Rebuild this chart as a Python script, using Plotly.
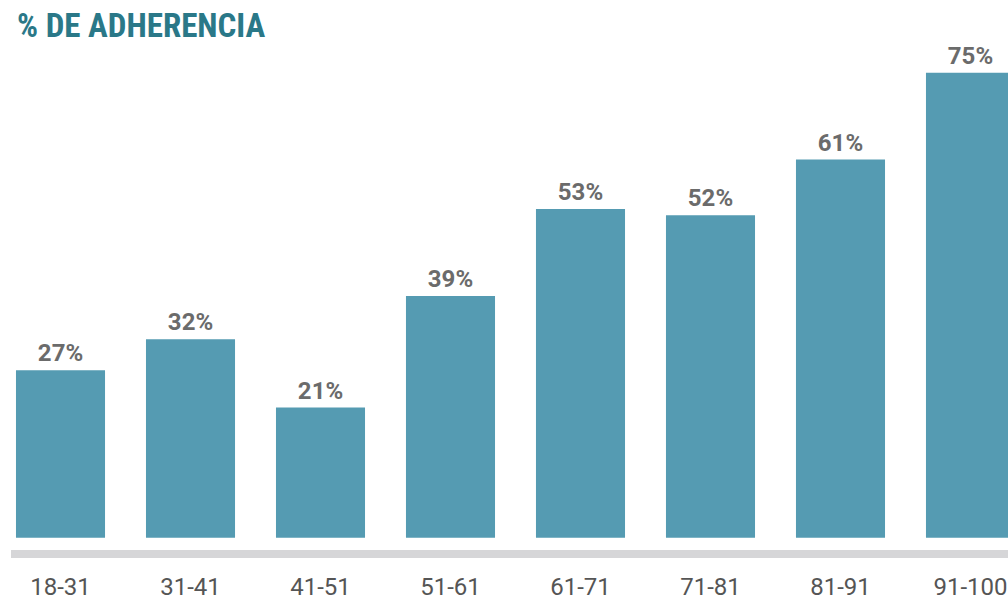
import plotly.graph_objects as go

categories = ["18-31", "31-41", "41-51", "51-61", "61-71", "71-81", "81-91", "91-100"]
adherence = [27, 32, 21, 39, 53, 52, 61, 75]
labels = [f"{v}%" for v in adherence]

TEAL = "#2a7888"
BAR = "#559bb2"

fig = go.Figure()
fig.add_trace(go.Bar(
    x=list(range(len(categories))), y=adherence, text=labels,
    textposition="outside", cliponaxis=False, width=0.685,
    marker=dict(color=BAR, line=dict(width=0)),
    textfont=dict(family="Roboto, Arial", size=24, color="#6b6b6b", weight="bold"),
    hoverinfo="skip"))

# baseline band under the bars
fig.add_shape(type="line", xref="paper", yref="y", x0=11 / 1008, x1=1, y0=-2.63, y1=-2.63,
              line=dict(color="#d6d6d8", width=8), layer="below")

fig.add_annotation(text="% DE ADHERENCIA", xref="paper", yref="paper", x=15 / 1008, y=1.0,
                   xanchor="left", yanchor="top", yshift=-4, showarrow=False,
                   font=dict(family="Liberation Sans Narrow, Roboto Condensed, Roboto", size=33,
                             color=TEAL, weight="bold"))

fig.update_layout(
    width=1008, height=600, paper_bgcolor="white", plot_bgcolor="white",
    margin=dict(l=0, r=0, t=0, b=30), showlegend=False, bargap=0.3,
    xaxis=dict(range=[-0.4654, 7.2885], tickmode="array", tickvals=list(range(len(categories))),
               ticktext=categories, showgrid=False, zeroline=False, showline=False, ticks="",
               automargin=False,
               tickfont=dict(family="Roboto, Arial", size=24, color="#555555")),
    yaxis=dict(range=[-5.21, 86.73], visible=False, showgrid=False, zeroline=False),
)

fig.write_html("out.html", config=dict(displayModeBar=False),
               post_script="document.body.style.margin='0';document.body.style.overflow='hidden';")
